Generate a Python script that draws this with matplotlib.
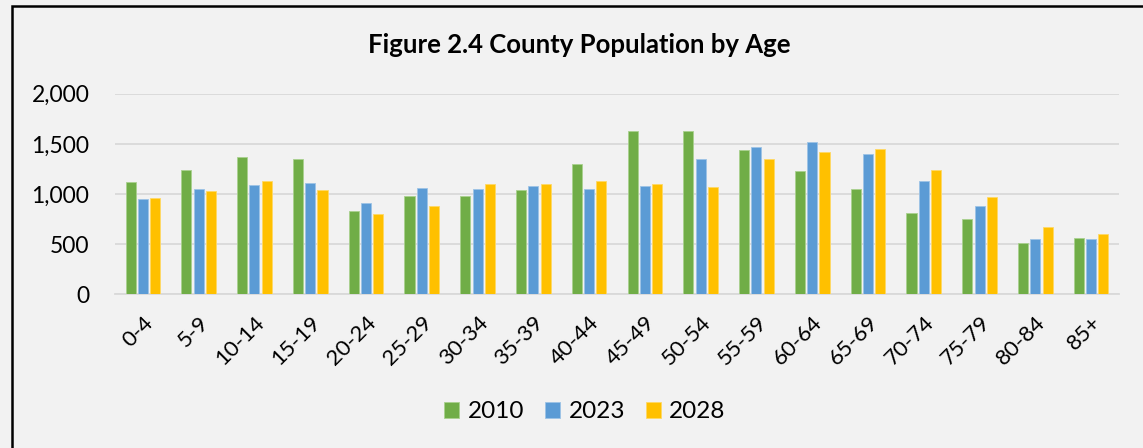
import matplotlib
matplotlib.use('Agg')
import matplotlib.pyplot as plt
import numpy as np
from matplotlib.patches import Rectangle
from matplotlib.ticker import FuncFormatter

age_groups = ['0-4', '5-9', '10-14', '15-19', '20-24', '25-29', '30-34', '35-39', '40-44',
              '45-49', '50-54', '55-59', '60-64', '65-69', '70-74', '75-79', '80-84', '85+']
pop_2010 = [1119, 1239, 1365, 1352, 834, 983, 977, 1036, 1299,
            1631, 1628, 1438, 1226, 1046, 811, 747, 512, 561]
pop_2023 = [953, 1046, 1090, 1106, 910, 1056, 1053, 1076, 1046,
            1080, 1349, 1468, 1515, 1395, 1129, 880, 551, 551]
pop_2028 = [957, 1026, 1129, 1040, 801, 877, 1096, 1100, 1129,
            1103, 1066, 1345, 1418, 1448, 1239, 973, 671, 605]

series = [('2010', pop_2010, '#70AD47', '#A9D18E'),
          ('2023', pop_2023, '#5B9BD5', '#9DC3E6'),
          ('2028', pop_2028, '#FFC000', '#FFD966')]

plt.rcParams['font.family'] = ['Lato', 'DejaVu Sans']

W, H = 1143, 448
fig = plt.figure(figsize=(W / 100, H / 100), dpi=100)
fig.patch.set_facecolor('#F2F2F2')

ax = fig.add_axes([115 / W, 1 - 294.3 / H, (1119 - 115) / W, (294.3 - 93.7) / H])
ax.set_facecolor('#F2F2F2')

x = np.arange(len(age_groups))
bw = 0.18
step = 0.22
for i, (name, vals, color, edge) in enumerate(series):
    ax.bar(x + (i - 1) * step, vals, width=bw, color=color, edgecolor=edge,
           linewidth=0.6, label=name, zorder=3)

ax.set_xlim(-0.5, len(age_groups) - 0.5)
ax.set_ylim(0, 2000)
ax.set_yticks([0, 500, 1000, 1500, 2000])
ax.yaxis.set_major_formatter(FuncFormatter(lambda v, p: f'{int(v):,}'))
ax.grid(axis='y', color='#D9D9D9', linewidth=1.3, zorder=0)
for s in ['top', 'right', 'left']:
    ax.spines[s].set_visible(False)
ax.spines['bottom'].set_color('#D9D9D9')
ax.spines['bottom'].set_linewidth(1.3)
ax.tick_params(axis='both', length=0, colors='black')
ax.tick_params(axis='y', pad=18.5, labelsize=16.5)
ax.set_xticks(x)
ax.set_xticklabels(age_groups, rotation=45, ha='right', rotation_mode='anchor', fontsize=16)
ax.tick_params(axis='x', pad=13)

fig.text(579 / W, 1 - 45 / H, 'Figure 2.4 County Population by Age', ha='center', va='center',
         fontsize=18.5, fontweight='bold')

leg = fig.legend(loc='center', bbox_to_anchor=(585 / W, 1 - 412 / H), ncol=3, frameon=False,
                 fontsize=17.5, handlelength=0.62, handleheight=0.62, handletextpad=0.35,
                 columnspacing=0.85)

fig.patches.append(Rectangle((12 / W, -0.1), 1.2, 1 - 6 / H + 0.1, transform=fig.transFigure,
                             fill=False, edgecolor='black', linewidth=1.8))

fig.savefig('out.png', dpi=100, facecolor=fig.get_facecolor())
